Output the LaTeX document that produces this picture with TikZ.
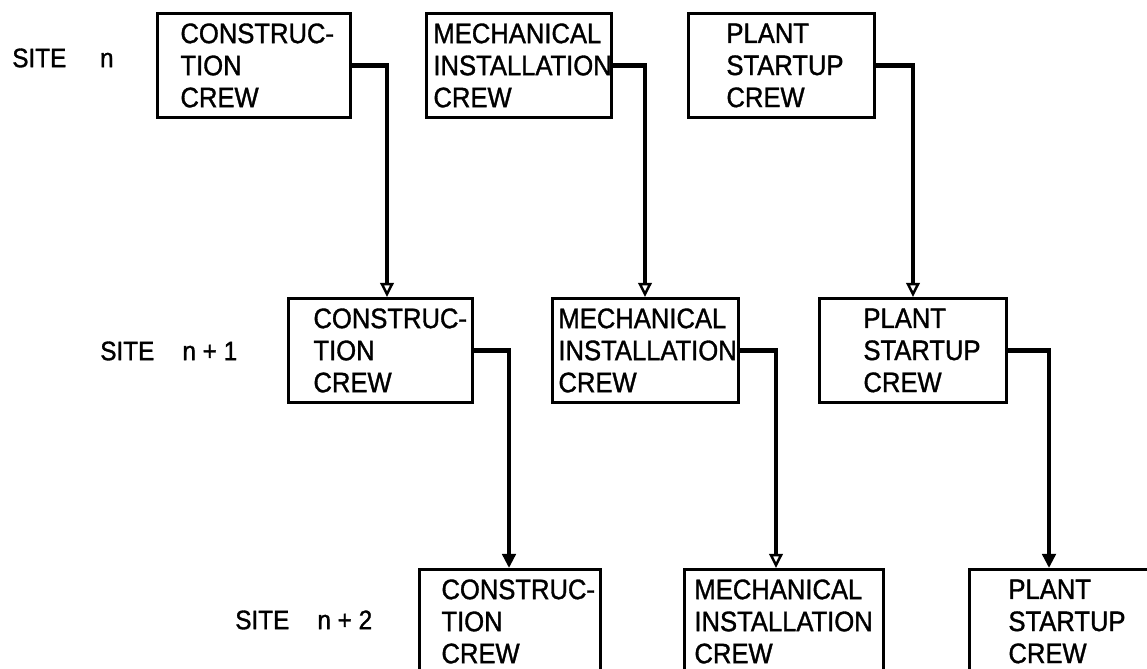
\documentclass[tikz,border=0pt]{standalone}
\usepackage{fontspec}
\newfontfamily\crewfont{Liberation Sans}[FakeStretch=0.91,FakeBold=1.2]
\usetikzlibrary{arrows.meta,calc}
\def\pu{*0.025cm}
\tikzset{
  crew/.style 2 args={draw,line width=2.1pt,anchor=north west,align=left,
    inner ysep=0pt,minimum height=104\pu,inner xsep=#2\pu,
    text width={(#1-2*#2)\pu},font=\crewfont\fontsize{20}{22.8}\selectfont},
  site/.style={anchor=west,inner sep=0pt,font=\crewfont\fontsize{19}{20}\selectfont},
  link/.style={line width=2.9pt},
  hollow/.style={-{Triangle[open,length=10pt,width=9.5pt,line width=1.8pt]}},
  solid/.style={-{Triangle[length=10pt,width=9.5pt]}},
}
\begin{document}
\begin{tikzpicture}[x=0.025cm,y=-0.025cm]
  \useasboundingbox (0,0) rectangle (1147,669);
  \clip (0,0) rectangle (1147,669);
  \node[site] (s0) at (12,58) {SITE\hspace{24pt}n};
  \node[site] (s1) at (100,351) {SITE\hspace{20pt}n + 1};
  \node[site] (s2) at (235,620) {SITE\hspace{20pt}n + 2};
  \node[crew={193}{23}] (c1) at (156,12) {\mbox{CONSTRUC-}\\TION\\CREW};
  \node[crew={185}{7}] (m1) at (425,12) {\mbox{MECHANICAL}\\\mbox{INSTALLATION}\\CREW};
  \node[crew={186}{38}] (p1) at (687,12) {PLANT\\\mbox{STARTUP}\\CREW};
  \node[crew={184}{25}] (c2) at (287,297) {\mbox{CONSTRUC-}\\TION\\CREW};
  \node[crew={186}{6}] (m2) at (551,297) {\mbox{MECHANICAL}\\\mbox{INSTALLATION}\\CREW};
  \node[crew={187}{44}] (p2) at (818,297) {PLANT\\\mbox{STARTUP}\\CREW};
  \node[crew={181}{22}] (c3) at (418,568) {\mbox{CONSTRUC-}\\TION\\CREW};
  \node[crew={199}{10}] (m3) at (683,568) {\mbox{MECHANICAL}\\\mbox{INSTALLATION}\\CREW};
  \node[crew={186}{39}] (p3) at (968,568) {PLANT\\\mbox{STARTUP}\\CREW};
  \foreach \src/\dst/\dx/\tip in {c1/c2/100/hollow,m1/m2/94/hollow,p1/p2/95/hollow,
    c2/c3/91/solid,m2/m3/93/hollow,p2/p3/81/solid}
    \draw[link,\tip] (\src.east) -| ($(\dst.north west)+(\dx,0)$);
\end{tikzpicture}
\end{document}
